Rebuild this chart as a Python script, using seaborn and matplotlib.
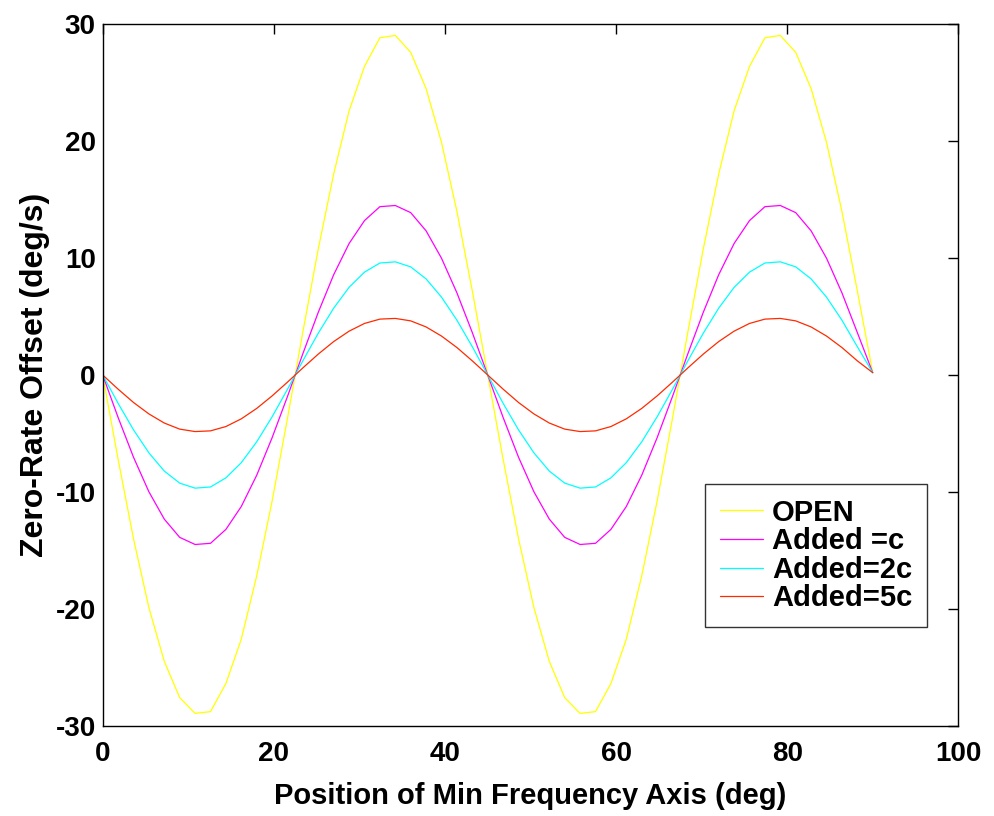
import numpy as np
import pandas as pd
import matplotlib
matplotlib.use("Agg")
import matplotlib.pyplot as plt
import seaborn as sns

# Position of min frequency axis (deg), sampled every 1.8 deg
positions = [0.0, 1.8, 3.6, 5.4, 7.2, 9.0, 10.8, 12.6, 14.4, 16.2, 18.0, 19.8, 21.6,
             23.4, 25.2, 27.0, 28.8, 30.6, 32.4, 34.2, 36.0, 37.8, 39.6, 41.4, 43.2,
             45.0, 46.8, 48.6, 50.4, 52.2, 54.0, 55.8, 57.6, 59.4, 61.2, 63.0, 64.8,
             66.6, 68.4, 70.2, 72.0, 73.8, 75.6, 77.4, 79.2, 81.0, 82.8, 84.6, 86.4,
             88.2, 90.0]

open_vals = [0.0, -7.2, -14.0, -19.9, -24.5, -27.6, -28.95, -28.8, -26.4, -22.6, -17.2,
             -10.8, -3.7, 3.7, 10.8, 17.2, 22.6, 26.4, 28.85, 29.05, 27.6, 24.5, 19.9,
             14.0, 7.2, 0.0, -7.2, -14.0, -19.9, -24.5, -27.6, -28.95, -28.8, -26.4,
             -22.6, -17.2, -10.8, -3.7, 3.7, 10.8, 17.2, 22.6, 26.4, 28.85, 29.05, 27.6,
             24.5, 19.9, 14.0, 7.2, 0.2]

added_c = [0.0, -3.63, -7.03, -9.99, -12.33, -13.89, -14.50, -14.40, -13.21, -11.25,
           -8.58, -5.37, -1.83, 1.83, 5.37, 8.58, 11.25, 13.21, 14.40, 14.50, 13.89,
           12.33, 9.99, 7.03, 3.63, 0.0, -3.63, -7.03, -9.99, -12.33, -13.89, -14.50,
           -14.40, -13.21, -11.25, -8.58, -5.37, -1.83, 1.83, 5.37, 8.58, 11.25, 13.21,
           14.40, 14.50, 13.89, 12.33, 9.99, 7.03, 3.63, 0.2]

added_2c = [0.0, -2.42, -4.69, -6.66, -8.22, -9.25, -9.68, -9.58, -8.80, -7.50, -5.72,
            -3.58, -1.22, 1.22, 3.58, 5.72, 7.50, 8.80, 9.58, 9.68, 9.25, 8.22, 6.66,
            4.69, 2.42, 0.0, -2.42, -4.69, -6.66, -8.22, -9.25, -9.68, -9.58, -8.80,
            -7.50, -5.72, -3.58, -1.22, 1.22, 3.58, 5.72, 7.50, 8.80, 9.58, 9.68, 9.25,
            8.22, 6.66, 4.69, 2.42, 0.2]

added_5c = [0.0, -1.21, -2.35, -3.33, -4.11, -4.63, -4.84, -4.78, -4.41, -3.75, -2.86,
            -1.79, -0.61, 0.61, 1.79, 2.86, 3.75, 4.41, 4.78, 4.84, 4.63, 4.11, 3.33,
            2.35, 1.21, 0.0, -1.21, -2.35, -3.33, -4.11, -4.63, -4.84, -4.78, -4.41,
            -3.75, -2.86, -1.79, -0.61, 0.61, 1.79, 2.86, 3.75, 4.41, 4.78, 4.84, 4.63,
            4.11, 3.33, 2.35, 1.21, 0.2]

series_names = ["OPEN", "Added =c", "Added=2c", "Added=5c"]
series_colors = ["#FFFF00", "#FF00FF", "#00FFFF", "#FF2A00"]

x_ticks = [0, 20, 40, 60, 80, 100]
y_ticks = [-30, -20, -10, 0, 10, 20, 30]

frames = []
for name, vals in zip(series_names, [open_vals, added_c, added_2c, added_5c]):
    frames.append(pd.DataFrame({"pos": positions, "val": vals, "series": name}))
df = pd.concat(frames, ignore_index=True)

sns.set_style("white")
plt.rcParams["font.family"] = ["Liberation Sans", "DejaVu Sans"]
plt.rcParams["axes.unicode_minus"] = False
plt.rcParams["text.color"] = "black"
plt.rcParams["axes.labelcolor"] = "black"

fig = plt.figure(figsize=(9.95, 8.16), dpi=100)
ax = fig.add_axes([0.1032, 0.1107, 0.8599, 0.8595])

sns.lineplot(data=df, x="pos", y="val", hue="series", hue_order=series_names,
             palette=dict(zip(series_names, series_colors)), linewidth=0.9,
             ax=ax, legend=False, sort=False, estimator=None)

ax.set_xlim(0, 100)
ax.set_ylim(-30, 30)
ax.set_xticks(x_ticks)
ax.set_yticks(y_ticks)
ax.set_xticklabels([str(t) for t in x_ticks])
ax.set_yticklabels([str(t) for t in y_ticks])
ax.tick_params(direction="in", length=7, width=1, top=True, right=True,
               labelsize=20, colors="black")
ax.tick_params(axis="x", pad=11)
ax.tick_params(axis="y", pad=5)
for lab in ax.get_xticklabels() + ax.get_yticklabels():
    lab.set_fontweight("bold")
for s in ax.spines.values():
    s.set_visible(True)
    s.set_color("black")
    s.set_linewidth(1.0)

ax.set_xlabel("Position of Min Frequency Axis (deg)", fontsize=21,
              fontweight="bold", labelpad=11)
ax.set_ylabel("Zero-Rate Offset (deg/s)", fontsize=23, fontweight="bold",
              labelpad=4)

handles = [plt.Line2D([], [], color=c, linewidth=0.9) for c in series_colors]
leg = ax.legend(handles, series_names, loc="upper left",
                bbox_to_anchor=(0.704, 0.3446),
                prop={"size": 21, "weight": "bold"}, frameon=True,
                fancybox=False, edgecolor="black", handlelength=1.5,
                handletextpad=0.3, labelspacing=0.02, borderpad=0.5,
                borderaxespad=0.0)
leg.get_frame().set_linewidth(1.0)

fig.savefig("out.png", dpi=100)
